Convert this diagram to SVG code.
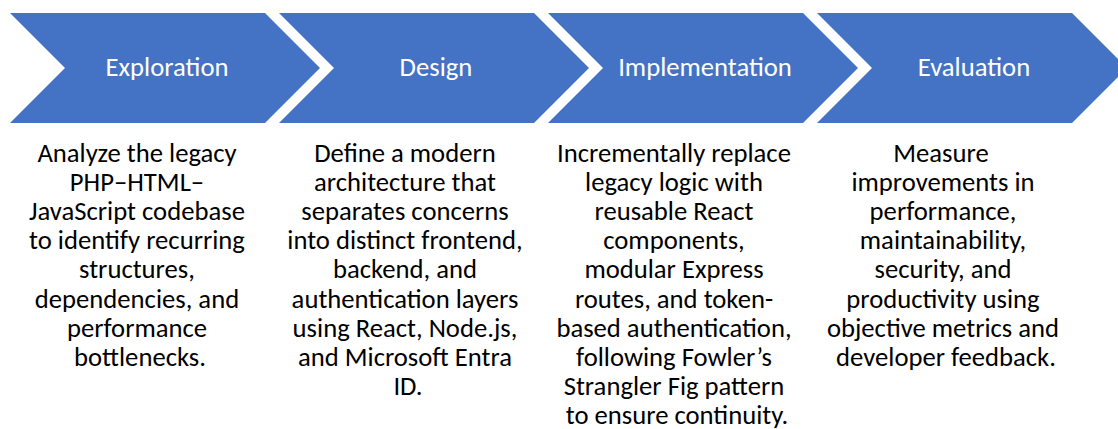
<svg xmlns="http://www.w3.org/2000/svg" width="1118" height="429" viewBox="0 0 1118 429">
  <style>
    .chev { fill: #4472C4; }
    .label { font-family: Carlito, Lato, "Open Sans", sans-serif; font-size: 26.67px; fill: #FFFFFF; text-anchor: middle; }
    .body { font-family: Carlito, Lato, "Open Sans", sans-serif; font-size: 26.67px; fill: #000000; text-anchor: middle; }
  </style>
  <rect width="1118" height="429" fill="#FFFFFF"/>

  <!-- Step 1 -->
  <g id="step-exploration">
    <polygon class="chev" points="10,13 265,13 320,68 265,123 10,123 65,68"/>
    <text class="label" x="167" y="76">Exploration</text>
    <text class="body" y="161.5">
      <tspan x="140">Analyze the legacy</tspan>
      <tspan x="140" dy="29.2">PHP–HTML–</tspan>
      <tspan x="140" dy="29.2">JavaScript codebase</tspan>
      <tspan x="140" dy="29.2">to identify recurring</tspan>
      <tspan x="140" dy="29.2">structures,</tspan>
      <tspan x="140" dy="29.2">dependencies, and</tspan>
      <tspan x="140" dy="29.2">performance</tspan>
      <tspan x="140" dy="29.2">bottlenecks.</tspan>
    </text>
  </g>

  <!-- Step 2 -->
  <g id="step-design">
    <polygon class="chev" points="279,13 534,13 589,68 534,123 279,123 334,68"/>
    <text class="label" x="436" y="76">Design</text>
    <text class="body" y="161.5">
      <tspan x="408">Define a modern</tspan>
      <tspan x="408" dy="29.2">architecture that</tspan>
      <tspan x="408" dy="29.2">separates concerns</tspan>
      <tspan x="408" dy="29.2">into distinct frontend,</tspan>
      <tspan x="408" dy="29.2">backend, and</tspan>
      <tspan x="408" dy="29.2">authentication layers</tspan>
      <tspan x="408" dy="29.2">using React, Node.js,</tspan>
      <tspan x="408" dy="29.2">and Microsoft Entra</tspan>
      <tspan x="408" dy="29.2">ID.</tspan>
    </text>
  </g>

  <!-- Step 3 -->
  <g id="step-implementation">
    <polygon class="chev" points="548,13 803,13 858,68 803,123 548,123 603,68"/>
    <text class="label" x="705" y="76">Implementation</text>
    <text class="body" y="161.5">
      <tspan x="677">Incrementally replace</tspan>
      <tspan x="677" dy="29.2">legacy logic with</tspan>
      <tspan x="677" dy="29.2">reusable React</tspan>
      <tspan x="677" dy="29.2">components,</tspan>
      <tspan x="677" dy="29.2">modular Express</tspan>
      <tspan x="677" dy="29.2">routes, and token-</tspan>
      <tspan x="677" dy="29.2">based authentication,</tspan>
      <tspan x="677" dy="29.2">following Fowler’s</tspan>
      <tspan x="677" dy="29.2">Strangler Fig pattern</tspan>
      <tspan x="677" dy="29.2">to ensure continuity.</tspan>
    </text>
  </g>

  <!-- Step 4 -->
  <g id="step-evaluation">
    <polygon class="chev" points="817,13 1072,13 1127,68 1072,123 817,123 872,68"/>
    <text class="label" x="974" y="76">Evaluation</text>
    <text class="body" y="161.5">
      <tspan x="944">Measure</tspan>
      <tspan x="946" dy="29.2">improvements in</tspan>
      <tspan x="946" dy="29.2">performance,</tspan>
      <tspan x="946" dy="29.2">maintainability,</tspan>
      <tspan x="946" dy="29.2">security, and</tspan>
      <tspan x="946" dy="29.2">productivity using</tspan>
      <tspan x="946" dy="29.2">objective metrics and</tspan>
      <tspan x="946" dy="29.2">developer feedback.</tspan>
    </text>
  </g>

  <!-- The steps run left to right with no separate connector lines -->
  <g id="connectors"/>
</svg>
